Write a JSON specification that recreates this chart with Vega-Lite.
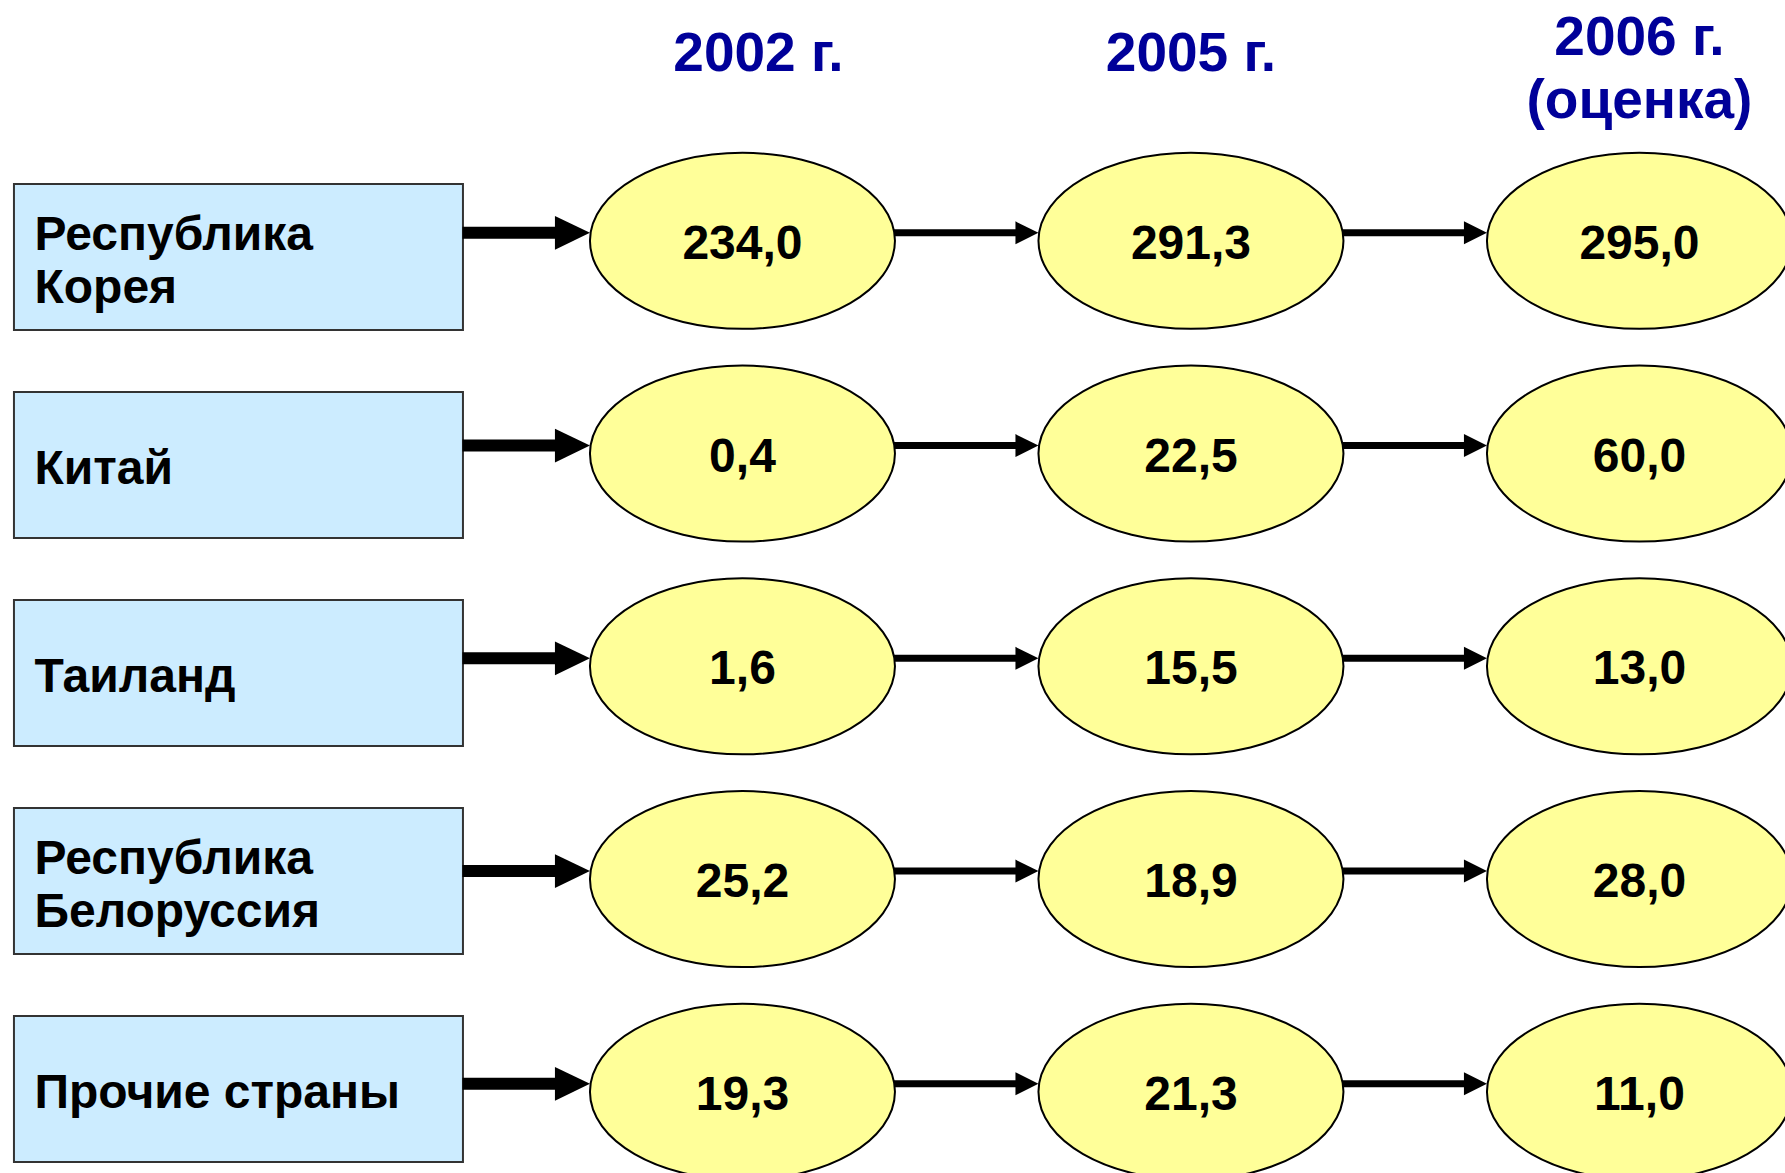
{
  "$schema": "https://vega.github.io/schema/vega-lite/v6.json",
  "width": 1785,
  "height": 1173,
  "autosize": {"type": "none"},
  "padding": 0,
  "background": "white",
  "config": {
    "view": {"stroke": null},
    "locale": {"number": {"decimal": ",", "thousands": " ", "grouping": [3], "currency": ["", ""]}},
    "text": {"font": "Liberation Sans", "fontWeight": "bold"}
  },
  "datasets": {
    "countries": [
      {"country": "Республика Корея", "label": "Республика\nКорея", "lines": 2},
      {"country": "Китай", "label": "Китай", "lines": 1},
      {"country": "Таиланд", "label": "Таиланд", "lines": 1},
      {"country": "Республика Белоруссия", "label": "Республика\nБелоруссия", "lines": 2},
      {"country": "Прочие страны", "label": "Прочие страны", "lines": 1}
    ],
    "cells": [
      {"country": "Республика Корея", "year": "2002 г.", "value": 234.0},
      {"country": "Республика Корея", "year": "2005 г.", "value": 291.3},
      {"country": "Республика Корея", "year": "2006 г.", "value": 295.0},
      {"country": "Китай", "year": "2002 г.", "value": 0.4},
      {"country": "Китай", "year": "2005 г.", "value": 22.5},
      {"country": "Китай", "year": "2006 г.", "value": 60.0},
      {"country": "Таиланд", "year": "2002 г.", "value": 1.6},
      {"country": "Таиланд", "year": "2005 г.", "value": 15.5},
      {"country": "Таиланд", "year": "2006 г.", "value": 13.0},
      {"country": "Республика Белоруссия", "year": "2002 г.", "value": 25.2},
      {"country": "Республика Белоруссия", "year": "2005 г.", "value": 18.9},
      {"country": "Республика Белоруссия", "year": "2006 г.", "value": 28.0},
      {"country": "Прочие страны", "year": "2002 г.", "value": 19.3},
      {"country": "Прочие страны", "year": "2005 г.", "value": 21.3},
      {"country": "Прочие страны", "year": "2006 г.", "value": 11.0}
    ],
    "headers": [
      {"year": "2002 г.", "title": "2002 г."},
      {"year": "2005 г.", "title": "2005 г."},
      {"year": "2006 г.", "title": "2006 г.\n(оценка)"}
    ]
  },
  "resolve": {"scale": {"y": "independent"}},
  "layer": [
    {
      "data": {"name": "countries"},
      "encoding": {
        "y": {
          "field": "country", "type": "nominal", "axis": null,
          "scale": {"type": "point", "domain": ["Республика Корея", "Китай", "Таиланд", "Республика Белоруссия", "Прочие страны"], "padding": 0.8197, "align": 0.7537}
        },
        "x": {
          "datum": "2002 г.", "type": "nominal", "axis": null,
          "scale": {"type": "point", "domain": ["2002 г.", "2005 г.", "2006 г."], "padding": 0.98997, "align": 0.8361}
        }
      },
      "layer": [
        {
          "mark": {"type": "point", "shape": "M-1,-0.3252H1V0.3252H-1Z", "size": 201601, "filled": true, "fill": "#CCECFF", "stroke": "#333333", "strokeWidth": 2, "opacity": 1, "xOffset": -504}
        },
        {
          "transform": [{"filter": "datum.lines == 1"}],
          "mark": {"type": "text", "align": "left", "baseline": "middle", "fontSize": 48, "dx": -708, "dy": 5, "color": "black"},
          "encoding": {"text": {"field": "label", "type": "nominal"}}
        },
        {
          "transform": [{"filter": "datum.lines == 2"}],
          "mark": {"type": "text", "align": "left", "baseline": "middle", "lineBreak": "\n", "fontSize": 48, "lineHeight": 53, "dx": -708, "dy": -21, "color": "black"},
          "encoding": {"text": {"field": "label", "type": "nominal"}}
        }
      ]
    },
    {
      "data": {"name": "cells"},
      "encoding": {
        "y": {
          "field": "country", "type": "nominal", "axis": null,
          "scale": {"type": "point", "domain": ["Республика Корея", "Китай", "Таиланд", "Республика Белоруссия", "Прочие страны"], "padding": 0.7568, "align": 0.748}
        },
        "x": {
          "field": "year", "type": "nominal", "axis": null,
          "scale": {"type": "point", "domain": ["2002 г.", "2005 г.", "2006 г."], "padding": 0.98997, "align": 0.8361}
        }
      },
      "layer": [
        {
          "transform": [
            {"window": [{"op": "lead", "field": "year", "as": "next"}], "groupby": ["country"], "sort": [{"field": "year"}]},
            {"filter": "datum.next != null"}
          ],
          "mark": {"type": "rule", "color": "black", "strokeWidth": 7, "xOffset": 151, "x2Offset": -170, "yOffset": -8},
          "encoding": {"x2": {"field": "next"}}
        },
        {
          "transform": [
            {"window": [{"op": "lead", "field": "year", "as": "next"}], "groupby": ["country"], "sort": [{"field": "year"}]},
            {"filter": "datum.next != null"}
          ],
          "mark": {"type": "point", "shape": "M-1,-1L1,0L-1,1Z", "size": 529, "filled": true, "fill": "black", "strokeWidth": 0, "opacity": 1, "xOffset": -164, "yOffset": -8},
          "encoding": {"x": {"field": "next", "type": "nominal"}}
        },
        {
          "transform": [{"filter": "datum.year == '2002 г.'"}],
          "mark": {"type": "rule", "color": "black", "strokeWidth": 12, "xOffset": -280, "x2Offset": -184, "yOffset": -8},
          "encoding": {"x2": {"field": "year"}}
        },
        {
          "transform": [{"filter": "datum.year == '2002 г.'"}],
          "mark": {"type": "point", "shape": "M-1,-0.97L1,0L-1,0.97Z", "size": 1225, "filled": true, "fill": "black", "strokeWidth": 0, "opacity": 1, "xOffset": -170, "yOffset": -8}
        },
        {
          "mark": {"type": "point", "shape": "M1,0C1,0.3187 0.5523,0.577 0,0.577C-0.5523,0.577 -1,0.3187 -1,0C-1,-0.3187 -0.5523,-0.577 0,-0.577C0.5523,-0.577 1,-0.3187 1,0Z", "size": 93025, "filled": true, "fill": "#FFFF99", "stroke": "black", "strokeWidth": 2, "opacity": 1}
        },
        {
          "mark": {"type": "text", "align": "center", "baseline": "middle", "fontSize": 48, "dy": 4, "color": "black"},
          "encoding": {"text": {"field": "value", "type": "quantitative", "format": ".1f"}}
        },
        {
          "data": {"name": "headers"},
          "transform": [{"filter": "datum.year == '2002 г.'"}],
          "mark": {"type": "text", "align": "center", "baseline": "alphabetic", "fontSize": 55, "dx": 16, "dy": -170, "color": "#000099"},
          "encoding": {"y": {"datum": "Республика Корея", "type": "nominal"}, "text": {"field": "title", "type": "nominal"}}
        },
        {
          "data": {"name": "headers"},
          "transform": [{"filter": "datum.year == '2005 г.'"}],
          "mark": {"type": "text", "align": "center", "baseline": "alphabetic", "fontSize": 55, "dy": -170, "color": "#000099"},
          "encoding": {"y": {"datum": "Республика Корея", "type": "nominal"}, "text": {"field": "title", "type": "nominal"}}
        },
        {
          "data": {"name": "headers"},
          "transform": [{"filter": "datum.year == '2006 г.'"}],
          "mark": {"type": "text", "align": "center", "baseline": "alphabetic", "fontSize": 55, "lineBreak": "\n", "lineHeight": 63, "dy": -186, "color": "#000099"},
          "encoding": {"y": {"datum": "Республика Корея", "type": "nominal"}, "text": {"field": "title", "type": "nominal"}}
        }
      ]
    }
  ]
}
